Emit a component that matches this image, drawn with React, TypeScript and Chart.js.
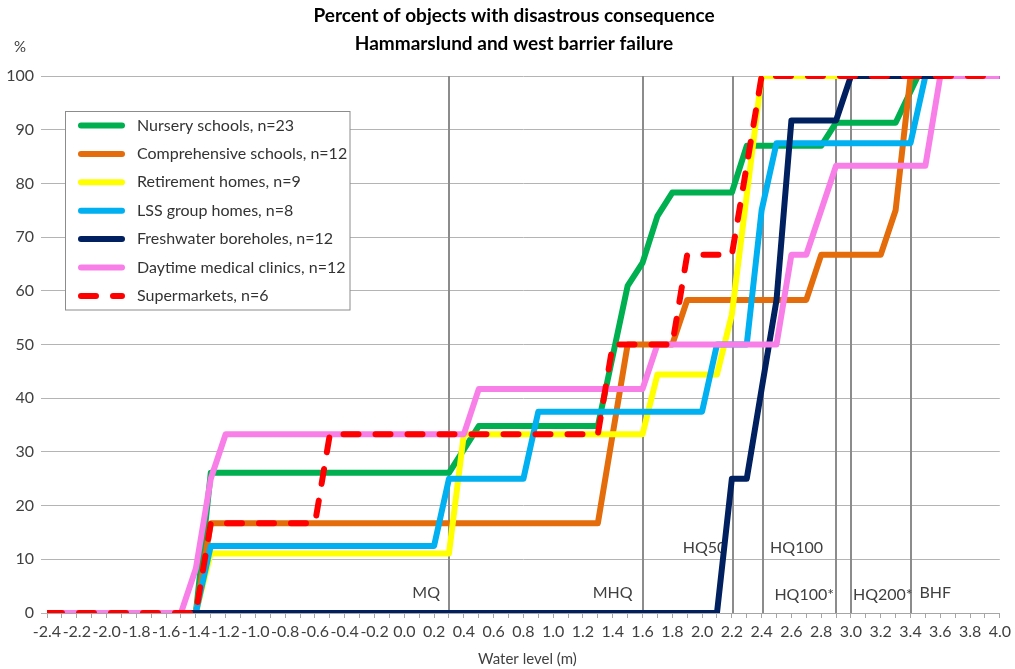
import { useEffect, useRef } from "react";
import { Chart, registerables } from "chart.js";

Chart.register(...registerables);

// ---------- DATA ----------
const seriesNames = [
  "Nursery schools, n=23",
  "Comprehensive schools, n=12",
  "Retirement homes, n=9",
  "LSS group homes, n=8",
  "Freshwater boreholes, n=12",
  "Daytime medical clinics, n=12",
  "Supermarkets, n=6",
];

const nurseryLevel = [-2.4, -1.4, -1.3, 0.3, 0.5, 1.3, 1.5, 1.6, 1.7, 1.8, 2.2, 2.3, 2.8, 2.9, 3.3, 3.45, 4.0];
const nurseryPct = [0, 0, 26.1, 26.1, 34.8, 34.8, 60.9, 65.2, 73.9, 78.3, 78.3, 87.0, 87.0, 91.3, 91.3, 100, 100];

const comprehensiveLevel = [-2.4, -1.4, -1.3, 1.3, 1.5, 1.8, 1.9, 2.7, 2.8, 3.2, 3.3, 3.4, 4.0];
const comprehensivePct = [0, 0, 16.7, 16.7, 50, 50, 58.3, 58.3, 66.7, 66.7, 75, 100, 100];

const retirementLevel = [-2.4, -1.4, -1.3, 0.3, 0.4, 1.6, 1.7, 2.1, 2.2, 2.3, 2.4, 4.0];
const retirementPct = [0, 0, 11.1, 11.1, 33.3, 33.3, 44.4, 44.4, 55.6, 77.8, 100, 100];

const lssLevel = [-2.4, -1.4, -1.3, 0.2, 0.3, 0.8, 0.9, 2.0, 2.1, 2.3, 2.4, 2.5, 3.4, 3.5, 4.0];
const lssPct = [0, 0, 12.5, 12.5, 25, 25, 37.5, 37.5, 50, 50, 75, 87.5, 87.5, 100, 100];

const boreholeLevel = [-2.4, 2.1, 2.2, 2.3, 2.4, 2.5, 2.6, 2.9, 3.0, 4.0];
const boreholePct = [0, 0, 25, 25, 41.7, 58.3, 91.7, 91.7, 100, 100];

const clinicLevel = [-2.4, -1.5, -1.4, -1.3, -1.2, 0.4, 0.5, 1.6, 1.7, 2.5, 2.6, 2.7, 2.9, 3.5, 3.6, 4.0];
const clinicPct = [0, 0, 8.3, 25, 33.3, 33.3, 41.7, 41.7, 50, 50, 66.7, 66.7, 83.3, 83.3, 100, 100];

const supermarketLevel = [-2.4, -1.4, -1.3, -0.6, -0.5, 1.3, 1.4, 1.8, 1.9, 2.2, 2.3, 2.4, 4.0];
const supermarketPct = [0, 0, 16.7, 16.7, 33.3, 33.3, 50, 50, 66.7, 66.7, 83.3, 100, 100];

const refLevels = [0.3, 1.6, 2.21, 2.41, 2.9, 3.0, 3.4];
const refNames = ["MQ", "MHQ", "HQ50", "HQ100", "HQ100*", "HQ200*", "BHF"];

const xMin = -2.4;
const xMax = 4.0;
const yMin = 0;
const yMax = 100;

// ---------- STYLE ----------
const colors = ["#00B050", "#E46C0A", "#FFFF00", "#00B0F0", "#002060", "#F97FE8", "#FF0000"];
const refLabelStyle = [
  { dx: -9, pct: 3.7, align: "right" },
  { dx: -10, pct: 3.7, align: "right" },
  { dx: -7, pct: 12.1, align: "right" },
  { dx: 7, pct: 12.1, align: "left" },
  { dx: -2, pct: 3.4, align: "right" },
  { dx: 2, pct: 3.4, align: "left" },
  { dx: 9, pct: 3.7, align: "left" },
];
const FONT = "Lato, 'Open Sans', sans-serif";
const TEXT = "#404040";

const seriesLevels = [nurseryLevel, comprehensiveLevel, retirementLevel, lssLevel, boreholeLevel, clinicLevel, supermarketLevel];
const seriesPcts = [nurseryPct, comprehensivePct, retirementPct, lssPct, boreholePct, clinicPct, supermarketPct];

const decorPlugin = {
  id: "decor",
  beforeDatasetsDraw(chart: any) {
    const { ctx, chartArea, scales } = chart;
    const xs = scales.x;
    const ys = scales.y;
    ctx.save();
    ctx.strokeStyle = "#8c8c8c";
    ctx.lineWidth = 2;
    refLevels.forEach((lv) => {
      const px = Math.round(xs.getPixelForValue(lv));
      ctx.beginPath();
      ctx.moveTo(px, chartArea.top);
      ctx.lineTo(px, chartArea.bottom);
      ctx.stroke();
    });
    ctx.font = `16px ${FONT}`;
    ctx.fillStyle = TEXT;
    ctx.textBaseline = "middle";
    refLevels.forEach((lv, i) => {
      const st = refLabelStyle[i];
      ctx.textAlign = st.align as CanvasTextAlign;
      ctx.fillText(refNames[i], xs.getPixelForValue(lv) + st.dx, ys.getPixelForValue(st.pct));
    });
    ctx.restore();
  },
  afterDatasetsDraw(chart: any) {
    const { ctx, chartArea } = chart;
    ctx.save();
    const bx = 65.5, by = 111.5, bw = 284.5, bh = 198.5;
    ctx.fillStyle = "#ffffff";
    ctx.fillRect(bx, by, bw, bh);
    ctx.strokeStyle = "#8c8c8c";
    ctx.lineWidth = 1;
    ctx.strokeRect(bx, by, bw, bh);
    chart.data.datasets.forEach((ds: any, i: number) => {
      const ry = 125.5 + i * 28.4;
      ctx.beginPath();
      ctx.strokeStyle = ds.borderColor;
      ctx.lineWidth = 6;
      ctx.lineCap = "round";
      ctx.setLineDash(ds.borderDash || []);
      ctx.moveTo(81, ry);
      ctx.lineTo(122, ry);
      ctx.stroke();
      ctx.setLineDash([]);
      ctx.fillStyle = "#333333";
      ctx.font = `16px ${FONT}`;
      ctx.textAlign = "left";
      ctx.textBaseline = "middle";
      ctx.fillText(ds.label, 137, ry);
    });
    ctx.fillStyle = "#000000";
    ctx.font = `bold 19px ${FONT}`;
    ctx.textAlign = "center";
    ctx.textBaseline = "middle";
    ctx.fillText("Percent of objects with disastrous consequence", 514, 16);
    ctx.fillText("Hammarslund and west barrier failure", 514, 44);
    ctx.font = `15px ${FONT}`;
    ctx.fillStyle = TEXT;
    ctx.fillText("%", 20, 47);
    ctx.font = `15px ${FONT}`;
    ctx.fillText("Water level (m)", (chartArea.left + chartArea.right) / 2 + 4, 659);
    ctx.restore();
  },
};

export default function App() {
  const ref = useRef<HTMLCanvasElement | null>(null);
  useEffect(() => {
    if (!ref.current) return;
    const datasets = seriesNames.map((name, i) => ({
      label: name,
      data: seriesLevels[i].map((x, j) => ({ x, y: seriesPcts[i][j] })),
      borderColor: colors[i],
      backgroundColor: colors[i],
      borderWidth: 6,
      borderDash: i === 6 ? [15, 17] : undefined,
      borderCapStyle: i === 6 ? "round" : "butt",
      borderJoinStyle: "round",
      pointRadius: 0,
      showLine: true,
      fill: false,
      tension: 0,
      order: seriesNames.length - 1 - i,
    }));
    const chart = new Chart(ref.current, {
      type: "scatter",
      data: { datasets: datasets as any },
      options: {
        animation: false,
        responsive: false,
        layout: { padding: { top: 76, right: 14, left: 0, bottom: 0 } },
        plugins: { legend: { display: false }, tooltip: { enabled: false }, title: { display: false } },
        scales: {
          x: {
            type: "linear",
            min: xMin,
            max: xMax,
            afterFit: (s: any) => { s.height = 56; },
            ticks: {
              stepSize: 0.1,
              autoSkip: false,
              maxRotation: 0,
              minRotation: 0,
              padding: 4,
              color: TEXT,
              font: { family: FONT, size: 16 },
              callback: (v: any) => (Math.round(Number(v) * 10) % 2 === 0 ? Number(v).toFixed(1) : ""),
            },
            grid: { drawOnChartArea: false, drawTicks: true, tickLength: 5, color: "#a6a6a6" },
            border: { display: true, color: "#a6a6a6", width: 1 },
          },
          y: {
            type: "linear",
            min: yMin,
            max: yMax,
            afterFit: (s: any) => { s.width = 47; },
            ticks: { stepSize: 10, padding: 7, color: TEXT, font: { family: FONT, size: 16 } },
            grid: { color: "#b4b4b4", lineWidth: 1, tickLength: 6, drawTicks: true },
            border: { display: false },
          },
        },
      },
      plugins: [decorPlugin],
    });
    return () => chart.destroy();
  }, []);
  return (
    <div style={{ position: "absolute", left: 0, top: 0, width: 1015, height: 669, background: "#fff" }}>
      <canvas ref={ref} width={1015} height={669} />
    </div>
  );
}
